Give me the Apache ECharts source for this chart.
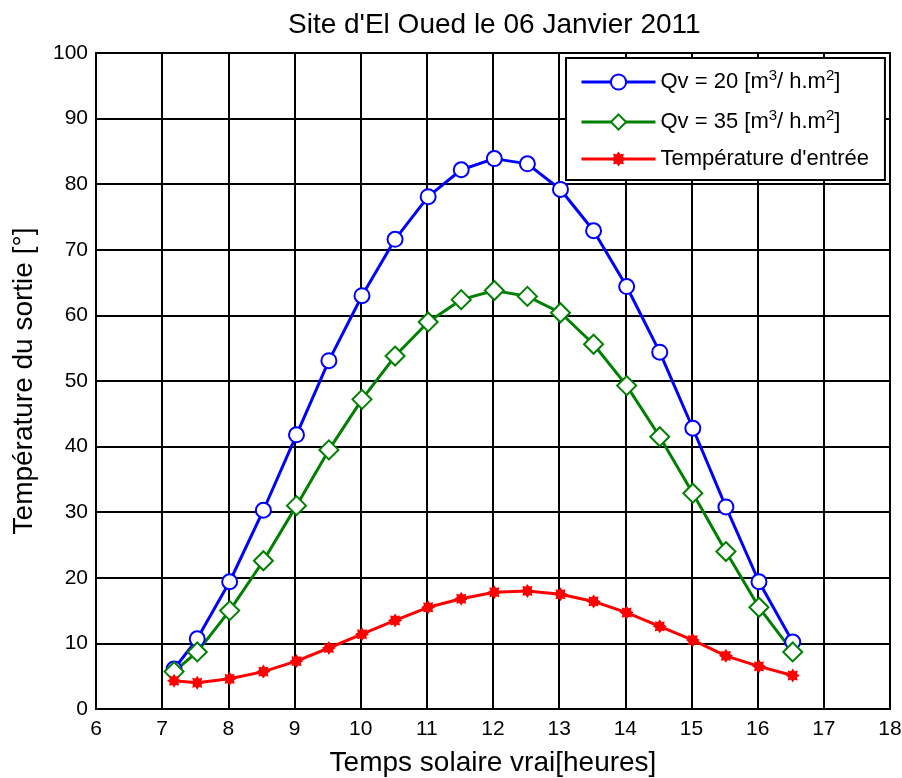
<!DOCTYPE html>
<html>
<head>
<meta charset="utf-8">
<script src="https://cdn.jsdelivr.net/npm/echarts@6/dist/echarts.min.js"></script>
<style>html,body{margin:0;padding:0;background:#fff}#c{width:902px;height:778px}</style>
</head>
<body>
<div id="c"></div>
<script>
const hours = [7.18, 7.53, 8.02, 8.53, 9.03, 9.52, 10.02, 10.52, 11.02, 11.52, 12.02, 12.52, 13.02, 13.52, 14.02, 14.52, 15.02, 15.52, 16.02, 16.53];
const qv20 = [6.1, 10.7, 19.4, 30.3, 41.8, 53.1, 63.0, 71.6, 78.1, 82.2, 83.9, 83.1, 79.2, 72.9, 64.4, 54.4, 42.8, 30.8, 19.4, 10.2];
const qv35 = [5.7, 8.7, 15.0, 22.6, 31.0, 39.5, 47.2, 53.8, 59.0, 62.4, 63.8, 62.9, 60.4, 55.6, 49.3, 41.5, 32.9, 24.0, 15.5, 8.7];
const tEntree = [4.3, 4.0, 4.6, 5.7, 7.3, 9.3, 11.4, 13.5, 15.5, 16.8, 17.8, 18.0, 17.5, 16.4, 14.7, 12.6, 10.5, 8.1, 6.5, 5.1];
const xTicks = {min: 6, max: 18, step: 1};
const yTicks = {min: 0, max: 100, step: 10};
const titleText = "Site d'El Oued le 06 Janvier 2011";
const xName = "Temps solaire vrai[heures]";
const yName = "Température du sortie [°]";
const names = ["Qv = 20 [m{sup|3}/ h.m{sup|2}]", "Qv = 35 [m{sup|3}/ h.m{sup|2}]", "Température d'entrée"];

const font = 'Liberation Sans, Arial, sans-serif';
const pair = (ys) => hours.map((h, i) => [h, ys[i]]);
const starPath = 'path://M12,6 L9.7,7.5 L10.24,10.24 L7.5,9.7 L6,12 L4.5,9.7 L1.76,10.24 L2.3,7.5 L0,6 L2.3,4.5 L1.76,1.76 L4.5,2.3 L6,0 L7.5,2.3 L10.24,1.76 L9.7,4.5 Z';

const chart = echarts.init(document.getElementById('c'), null, {renderer: 'canvas'});
chart.setOption({
  backgroundColor: '#fff',
  animation: false,
  textStyle: {fontFamily: font},
  title: {
    text: titleText, left: 283, top: 6,
    textStyle: {fontFamily: font, fontSize: 28, fontWeight: 'normal', color: '#000'}
  },
  grid: {left: 96, right: 12, top: 53, bottom: 69, show: true, borderColor: '#000', borderWidth: 2,
         backgroundColor: 'transparent', containLabel: false, outerBoundsMode: 'none'},
  legend: {
    orient: 'vertical', left: 566, top: 58,
    backgroundColor: '#fff', borderColor: '#000', borderWidth: 2,
    padding: [10, 16, 10, 14], itemGap: 15, itemWidth: 74, itemHeight: 19,
    lineStyle: {width: 3},
    textStyle: {
      fontFamily: font, fontSize: 22, color: '#000',
      rich: {sup: {fontFamily: font, fontSize: 15, color: '#000', padding: [0, 0, 13, 0]}}
    },
    data: names
  },
  xAxis: {
    type: 'value', min: xTicks.min, max: xTicks.max, interval: xTicks.step,
    name: xName, nameLocation: 'middle', nameGap: 40,
    nameTextStyle: {fontFamily: font, fontSize: 28, color: '#000'},
    axisLine: {show: true, lineStyle: {color: '#000', width: 2}},
    axisTick: {show: false},
    axisLabel: {fontFamily: font, fontSize: 21, color: '#000', margin: 10},
    splitLine: {show: true, lineStyle: {color: '#000', width: 2}}
  },
  yAxis: {
    type: 'value', min: yTicks.min, max: yTicks.max, interval: yTicks.step,
    name: yName, nameLocation: 'middle', nameGap: 58,
    nameTextStyle: {fontFamily: font, fontSize: 28, color: '#000'},
    axisLine: {show: true, lineStyle: {color: '#000', width: 2}},
    axisTick: {show: false},
    axisLabel: {fontFamily: font, fontSize: 21, color: '#000', margin: 8},
    splitLine: {show: true, lineStyle: {color: '#000', width: 2}}
  },
  series: [
    {
      name: names[0], type: 'line', data: pair(qv20),
      symbol: 'emptyCircle', symbolSize: 15, z: 3,
      lineStyle: {color: '#0000ff', width: 3},
      itemStyle: {color: '#0000ff', borderColor: '#0000ff', borderWidth: 3}
    },
    {
      name: names[1], type: 'line', data: pair(qv35),
      symbol: 'emptyDiamond', symbolSize: 19, z: 3,
      lineStyle: {color: '#008000', width: 3},
      itemStyle: {color: '#008000', borderColor: '#008000', borderWidth: 3}
    },
    {
      name: names[2], type: 'line', data: pair(tEntree),
      symbol: starPath, symbolSize: 14, z: 3,
      lineStyle: {color: '#ff0000', width: 3},
      itemStyle: {color: '#ff0000'}
    }
  ]
});
</script>
</body>
</html>
